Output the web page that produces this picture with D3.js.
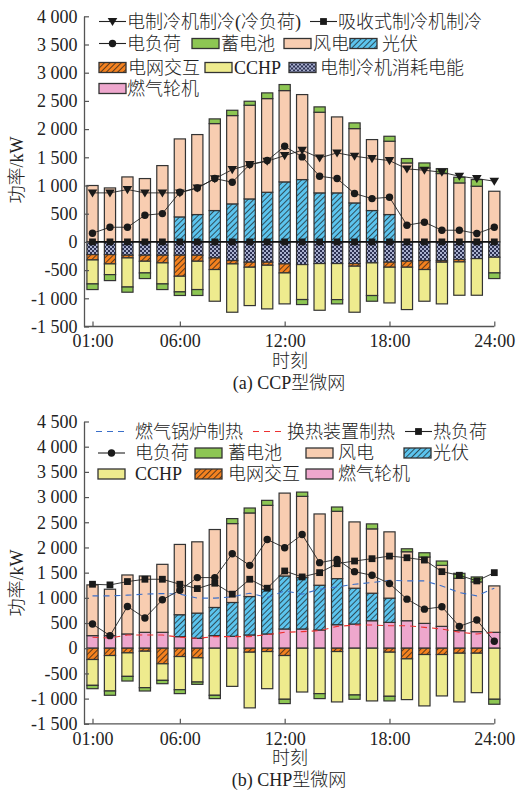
<!DOCTYPE html>
<html><head><meta charset="utf-8">
<script src="https://cdn.jsdelivr.net/npm/d3@7"></script>
<style>
body{margin:0;background:#fff;}
svg text{font-family:"Liberation Serif","Noto Sans CJK SC",serif;fill:#222;font-weight:300;}
</style></head>
<body><svg id="c" width="517" height="797"></svg>
<script>
// ---- shared axis data ----
const hours = d3.range(1, 25);
const tickHours = [1, 6, 12, 18, 24];
const tickLabels = ["01:00", "06:00", "12:00", "18:00", "24:00"];
const ccpTicks = [-1500, -1000, -500, 0, 500, 1000, 1500, 2000, 2500, 3000, 3500, 4000];
const chpTicks = [-1500, -1000, -500, 0, 500, 1000, 1500, 2000, 2500, 3000, 3500, 4000, 4500];

// ---- (a) CCP microgrid, kW ----
const ccpPV      = [0,0,0,0,0,443,485,556,674,762,880,1064,1105,869,869,691,556,485,0,0,0,0,0,0];
const ccpWind    = [1000,957,1152,1123,1353,1383,1418,1542,1566,1661,1661,1619,1507,1430,1347,1318,1258,1300,1400,1312,1212,1046,987,898];
const ccpBattery = [-100,-106,-92,-100,-100,-64,-105,83,94,71,101,107,-89,95,-76,101,-101,88,78,88,88,100,118,-100];
const ccpChillerUse = [-225,-225,-236,-236,-236,-236,-236,-284,-331,-360,-360,-390,-402,-384,-384,-384,-372,-360,-343,-331,-331,-313,-296,-272];
const ccpGrid    = [-95,-165,-48,-107,-136,-373,-107,-206,-59,-89,-54,-160,0,0,0,-47,0,-89,-106,-159,-29,-42,0,0];
const ccpCCHP    = [-425,-190,-516,-207,-373,-277,-502,-562,-857,-680,-774,-549,-620,-828,-639,-816,-579,-633,-751,-562,-739,-591,-650,-278];
const ccpCoolLoad = [869,869,928,869,869,869,957,1120,1282,1371,1430,1530,1625,1489,1578,1519,1477,1442,1294,1271,1235,1164,1123,1076];
const ccpElecLoad = [154,260,260,473,502,880,957,1123,1058,1371,1442,1696,1507,1164,1123,857,768,792,296,349,207,207,148,260];
const ccpAbsorption = [0,0,0,0,0,0,0,0,0,0,0,0,0,0,0,0,0,0,0,0,0,0,0,0];

// ---- (b) CHP microgrid, kW ----
const chpGas     = [250,250,283,316,316,230,197,250,237,263,283,382,382,362,467,480,546,513,546,493,434,349,329,316];
const chpPV      = [0,0,0,0,0,435,500,559,671,763,888,1052,1020,888,915,711,546,481,0,0,0,0,0,0];
const chpWind    = [1007,921,1171,1118,1349,1395,1415,1547,1566,1659,1665,1645,1612,1415,1336,1316,1277,1316,1369,1317,1211,1039,987,921];
const chpBattery = [-66,-85,-92,-66,-66,-78,-46,-66,99,98,99,-86,85,-99,85,-85,99,-92,59,85,86,99,99,-99];
const chpGrid    = [-224,-145,-92,-59,-309,-165,-191,0,0,-79,-66,-145,0,0,-66,0,0,-79,-211,-125,-125,-99,-99,0];
const chpCCHP    = [-513,-704,-467,-724,-329,-658,-480,-934,-757,-1105,-737,-868,-869,-901,-1000,-928,-1046,-875,-809,-1020,-822,-967,-783,-1013];
const chpBoilerHeat = [1040,1040,1053,1073,1086,1073,994,994,1020,1092,1007,1138,1073,1171,1217,1270,1303,1349,1336,1336,1237,1105,1040,1191];
const chpExchHeat   = [217,204,263,263,263,217,197,230,230,230,270,316,329,349,434,460,460,447,447,414,382,316,283,316];
const chpHeatLoad   = [1270,1257,1323,1369,1369,1270,1184,1290,1073,1369,1191,1533,1415,1500,1678,1731,1777,1829,1796,1750,1520,1448,1336,1500];
const chpElecLoad   = [480,250,829,599,961,1152,1402,1402,1875,1645,2158,1994,2257,1698,1763,1520,1448,1283,974,776,822,434,559,138];

const svg = d3.select("#c");
const fmt = d3.formatLocale({decimal: ".", thousands: " ", grouping: [3], currency: ["", ""], minus: "-"}).format(",");

// ---- fills and patterns ----
const defs = svg.append("defs");
function hatch(id, bg) {
  const p = defs.append("pattern").attr("id", id).attr("patternUnits", "userSpaceOnUse")
    .attr("width", 4).attr("height", 4).attr("patternTransform", "rotate(45)");
  p.append("rect").attr("width", 4).attr("height", 4).attr("fill", bg);
  p.append("line").attr("x1", 0).attr("y1", 0).attr("x2", 0).attr("y2", 4)
    .attr("stroke", "#1a1a1a").attr("stroke-width", 1.4);
}
hatch("hPV", "#5cc4ee");
hatch("hGrid", "#f5821f");
const chk = defs.append("pattern").attr("id", "hChk").attr("patternUnits", "userSpaceOnUse")
  .attr("width", 4).attr("height", 4);
chk.append("rect").attr("width", 4).attr("height", 4).attr("fill", "#2c3152");
chk.append("rect").attr("x", 0).attr("y", 0).attr("width", 2).attr("height", 2).attr("fill", "#aab1cf");
chk.append("rect").attr("x", 2).attr("y", 2).attr("width", 2).attr("height", 2).attr("fill", "#aab1cf");

const fills = {
  wind: "#f8cdb1", battery: "#8dc653", pv: "url(#hPV)", grid: "url(#hGrid)",
  cchp: "#eeeb8e", gas: "#eea7cd", chiller: "url(#hChk)"
};

const triPath = "M-4.8,-3.5L4.8,-3.5L0,4.6Z";
function marker(sel, kind) {
  if (kind === "tri") sel.append("path").attr("d", triPath).attr("fill", "#1a1a1a");
  else if (kind === "circle") sel.append("circle").attr("r", 3.7).attr("fill", "#1a1a1a");
  else if (kind === "square") sel.append("rect").attr("x", -3.4).attr("y", -3.4).attr("width", 6.8).attr("height", 6.8).attr("fill", "#1a1a1a");
}

function drawPanel(opt) {
  const x = d3.scaleLinear().domain([1, 24]).range([92.5, 494.3]);
  const y = d3.scaleLinear().domain(opt.domain).range(opt.range);
  const g = svg.append("g");

  // stacked bars: positives up from zero, negatives down, in series order
  const rows = hours.map((h, i) => {
    const r = {hour: h};
    opt.series.forEach(s => r[s.key] = s.values[i]);
    return r;
  });
  const layers = d3.stack().keys(opt.series.map(s => s.key)).offset(d3.stackOffsetDiverging)(rows);
  layers.forEach((layer, li) => {
    const s = opt.series[li];
    g.append("g").selectAll("rect").data(layer.filter(d => d[1] !== d[0])).join("rect")
      .attr("x", d => x(d.data.hour) - 5.6).attr("width", 11.2)
      .attr("y", d => y(Math.max(d[0], d[1])))
      .attr("height", d => Math.abs(y(d[0]) - y(d[1])))
      .attr("fill", s.fill).attr("stroke", "#333").attr("stroke-width", 1.2);
  });

  // axes
  const ya = g.append("g").attr("transform", `translate(84,0)`)
    .call(d3.axisLeft(y).tickValues(opt.ticks).tickFormat(fmt).tickSize(-5).tickSizeOuter(0).tickPadding(6.5));
  const xa = g.append("g").attr("transform", `translate(0,${opt.range[0]})`)
    .call(d3.axisBottom(x).tickValues(tickHours).tickFormat((d, i) => tickLabels[i]).tickSize(-5).tickSizeOuter(0).tickPadding(8));
  xa.select(".domain").attr("d", `M84,0H${x(24)}`);
  [ya, xa].forEach(a => {
    a.select(".domain").attr("stroke", "#555").attr("stroke-width", 1.3);
    a.selectAll(".tick line").attr("stroke", "#555").attr("stroke-width", 1.2);
    a.selectAll(".tick text").attr("font-size", 18).attr("fill", "#222")
      .style("font-family", "'Liberation Serif',serif");
  });

  // lines with markers
  opt.lines.forEach(l => {
    const line = d3.line().x((d, i) => x(hours[i])).y(d => y(d));
    g.append("path").attr("d", line(l.values)).attr("fill", "none")
      .attr("stroke", l.color || "#222").attr("stroke-width", l.width || 0.9)
      .attr("stroke-dasharray", l.dash || null);
    if (l.marker) {
      g.append("g").selectAll("g").data(l.values).join("g")
        .attr("transform", (d, i) => `translate(${x(hours[i])},${y(d)})`)
        .each(function () { marker(d3.select(this), l.marker); });
    }
  });

  // titles
  g.append("text").attr("x", 290).attr("y", opt.range[0] + 40).attr("text-anchor", "middle")
    .attr("font-size", 18).text("时刻");
  g.append("text").attr("x", 289).attr("y", opt.range[0] + 62).attr("text-anchor", "middle")
    .attr("font-size", 18).text(opt.caption);
  g.append("text").attr("transform", `translate(23,${opt.yTitleY}) rotate(-90)`)
    .attr("text-anchor", "middle").attr("font-size", 18).text("功率/kW");

  // legend
  const lg = g.append("g");
  opt.legend.forEach(it => {
    const c = lg.append("g").attr("transform", `translate(${it.x},${it.y})`);
    if (it.type === "box") {
      c.append("rect").attr("x", 0).attr("y", -5).attr("width", 27).attr("height", 10)
        .attr("fill", it.fill).attr("stroke", "#333").attr("stroke-width", 1.3);
    } else {
      c.append("line").attr("x1", 0).attr("x2", it.w || 27).attr("y1", 0).attr("y2", 0)
        .attr("stroke", it.color || "#222").attr("stroke-width", it.width || 1.1)
        .attr("stroke-dasharray", it.dash || null);
      if (it.marker) {
        const m = c.append("g").attr("transform", `translate(${(it.w || 27) / 2},0)`);
        marker(m, it.marker);
      }
    }
    lg.append("text").attr("x", it.tx).attr("y", it.y).attr("dy", "0.36em")
      .attr("font-size", 18).text(it.label);
  });
}

drawPanel({
  domain: [-1500, 4000], range: [326.5, 16.3], ticks: ccpTicks,
  caption: "(a) CCP型微网", yTitleY: 170,
  series: [
    {key: "pv", values: ccpPV, fill: fills.pv},
    {key: "wind", values: ccpWind, fill: fills.wind},
    {key: "chiller", values: ccpChillerUse, fill: fills.chiller},
    {key: "grid", values: ccpGrid, fill: fills.grid},
    {key: "cchp", values: ccpCCHP, fill: fills.cchp},
    {key: "battery", values: ccpBattery, fill: fills.battery}
  ],
  lines: [
    {values: ccpCoolLoad, marker: "tri"},
    {values: ccpElecLoad, marker: "circle"},
    {values: ccpAbsorption, marker: "square", width: 1.6, color: "#111"}
  ],
  legend: [
    {type: "line", marker: "tri", x: 99, y: 21.5, tx: 127, label: "电制冷机制冷(冷负荷)"},
    {type: "line", marker: "square", x: 310, y: 21.5, w: 27, tx: 338, label: "吸收式制冷机制冷"},
    {type: "line", marker: "circle", x: 99, y: 43.5, tx: 127, label: "电负荷"},
    {type: "box", fill: fills.battery, x: 192, y: 43.5, tx: 221, label: "蓄电池"},
    {type: "box", fill: fills.wind, x: 284, y: 43.5, tx: 313, label: "风电"},
    {type: "box", fill: fills.pv, x: 350, y: 43.5, tx: 382, label: "光伏"},
    {type: "box", fill: fills.grid, x: 99, y: 67.5, tx: 128, label: "电网交互"},
    {type: "box", fill: fills.cchp, x: 205, y: 67.5, tx: 234, label: "CCHP"},
    {type: "box", fill: fills.chiller, x: 289, y: 67.5, tx: 320, label: "电制冷机消耗电能"},
    {type: "box", fill: fills.gas, x: 99, y: 88.5, tx: 127, label: "燃气轮机"}
  ]
});

drawPanel({
  domain: [-1500, 4500], range: [723.8, 421.5], ticks: chpTicks,
  caption: "(b) CHP型微网", yTitleY: 583,
  series: [
    {key: "gas", values: chpGas, fill: fills.gas},
    {key: "pv", values: chpPV, fill: fills.pv},
    {key: "wind", values: chpWind, fill: fills.wind},
    {key: "grid", values: chpGrid, fill: fills.grid},
    {key: "cchp", values: chpCCHP, fill: fills.cchp},
    {key: "battery", values: chpBattery, fill: fills.battery}
  ],
  lines: [
    {values: chpBoilerHeat, color: "#3a6fc9", dash: "6,5", width: 1.1},
    {values: chpExchHeat, color: "#ee3030", dash: "6,5", width: 1.1},
    {values: chpHeatLoad, marker: "square"},
    {values: chpElecLoad, marker: "circle"}
  ],
  legend: [
    {type: "line", color: "#3a6fc9", dash: "6,5", w: 31, x: 96, y: 431.5, tx: 135, label: "燃气锅炉制热"},
    {type: "line", color: "#ee3030", dash: "6,5", w: 31, x: 253, y: 431.5, tx: 287, label: "换热装置制热"},
    {type: "line", marker: "square", x: 405, y: 431.5, tx: 433, label: "热负荷"},
    {type: "line", marker: "circle", x: 98, y: 453, tx: 135, label: "电负荷"},
    {type: "box", fill: fills.battery, x: 195, y: 453, tx: 228, label: "蓄电池"},
    {type: "box", fill: fills.wind, x: 306, y: 453, tx: 338, label: "风电"},
    {type: "box", fill: fills.pv, x: 404, y: 453, tx: 433, label: "光伏"},
    {type: "box", fill: fills.cchp, x: 98, y: 474, tx: 135, label: "CCHP"},
    {type: "box", fill: fills.grid, x: 195, y: 474, tx: 228, label: "电网交互"},
    {type: "box", fill: fills.gas, x: 306, y: 474, tx: 338, label: "燃气轮机"}
  ]
});
</script>
</body></html>
